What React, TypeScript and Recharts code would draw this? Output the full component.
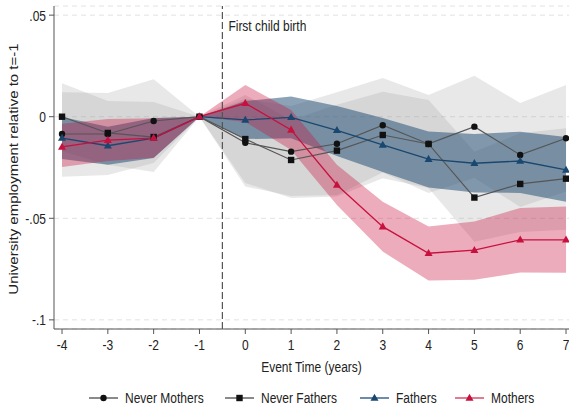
import { ComposedChart, Area, Line, XAxis, YAxis, CartesianGrid, ReferenceLine } from 'recharts';

const years = [-4, -3, -2, -1, 0, 1, 2, 3, 4, 5, 6, 7];
const yTicks = [-0.1, -0.05, 0, 0.05];

const neverMothers = [-0.0085, -0.0085, -0.0021, 0, -0.0128, -0.0172, -0.0133, -0.0042, -0.0134, -0.0049, -0.0188, -0.0106];
const neverMothersLo = [-0.0296, -0.0287, -0.0228, 0, -0.0344, -0.039, -0.0385, -0.0275, -0.0375, -0.03, -0.0444, -0.0368];
const neverMothersHi = [0.0121, 0.0117, 0.0185, 0, 0.0088, 0.0053, 0.0121, 0.019, 0.0107, 0.0202, 0.0067, 0.0156];

const neverFathers = [0, -0.008, -0.01, 0, -0.011, -0.0213, -0.0167, -0.009, -0.0134, -0.0398, -0.0331, -0.0305];
const neverFathersLo = [-0.0169, -0.0237, -0.0272, 0, -0.0326, -0.04, -0.0393, -0.0303, -0.0351, -0.0615, -0.0567, -0.0557];
const neverFathersHi = [0.0165, 0.0077, 0.0072, 0, 0.0107, -0.0016, 0.0059, 0.0123, 0.0082, -0.0172, -0.0082, -0.0057];

const fathers = [-0.0105, -0.0143, -0.0105, 0, -0.0016, -0.0003, -0.0067, -0.0139, -0.0209, -0.0229, -0.0218, -0.0262];
const fathersLo = [-0.0208, -0.0236, -0.0203, 0, -0.011, -0.0106, -0.0193, -0.0272, -0.0348, -0.0373, -0.0375, -0.0419];
const fathersHi = [-0.0001, -0.0049, -0.0006, 0, 0.0077, 0.01, 0.0053, -0.0006, -0.0073, -0.0085, -0.0074, -0.01];

const mothers = [-0.0149, -0.0115, -0.0105, 0, 0.0066, -0.0065, -0.0336, -0.0541, -0.0672, -0.0657, -0.0606, -0.0606];
const mothersLo = [-0.0247, -0.0218, -0.0202, 0, -0.0026, -0.0164, -0.0434, -0.0664, -0.0806, -0.0803, -0.0767, -0.0768];
const mothersHi = [-0.0035, -0.0011, -0.0008, 0, 0.0156, 0.0033, -0.0237, -0.0418, -0.0541, -0.0516, -0.0449, -0.0442];

const data = years.map((t, i) => ({
  t,
  nm: neverMothers[i],
  nmBand: [neverMothersLo[i], neverMothersHi[i]],
  nf: neverFathers[i],
  nfBand: [neverFathersLo[i], neverFathersHi[i]],
  f: fathers[i],
  fBand: [fathersLo[i], fathersHi[i]],
  m: mothers[i],
  mBand: [mothersLo[i], mothersHi[i]],
}));

const FONT = '"Liberation Sans", Arial, sans-serif';
const NAVY = '#1a476f';
const CRIMSON = '#c8103e';
const INK = '#111';
const STRETCH = 1.25; // glyphs in the reference are drawn tall and narrow

function fmtY(v: number) {
  if (v === 0) return '0';
  return String(v).replace('0.', '.');
}

const circleDot = (color: string) => (p: any) =>
  <circle key={`c${p.index}`} cx={p.cx} cy={p.cy} r={3.2} fill={color} />;

const squareDot = (color: string) => (p: any) =>
  <rect key={`s${p.index}`} x={p.cx - 3.2} y={p.cy - 3.2} width={6.4} height={6.4} fill={color} />;

const triangleDot = (color: string) => (p: any) =>
  <polygon
    key={`t${p.index}`}
    points={`${p.cx},${p.cy - 4.3} ${p.cx - 4},${p.cy + 2.8} ${p.cx + 4},${p.cy + 2.8}`}
    fill={color}
  />;

function XTick(p: any) {
  return (
    <g transform={`translate(${p.x},${p.y})`}>
      <text transform={`scale(1,${STRETCH})`} textAnchor="middle" dy={11} fontSize={12} fill="#222" fontFamily={FONT}>
        {p.payload.value}
      </text>
    </g>
  );
}

function YTick(p: any) {
  return (
    <g transform={`translate(${p.x},${p.y})`}>
      <text transform={`scale(1,${STRETCH})`} textAnchor="end" dy={4.3} fontSize={12} fill="#222" fontFamily={FONT}>
        {fmtY(p.payload.value)}
      </text>
    </g>
  );
}

function XTitle(p: any) {
  const vb = p.viewBox;
  return (
    <g transform={`translate(${vb.x + vb.width / 2},${vb.y + 43})`}>
      <text transform={`scale(1,${STRETCH})`} textAnchor="middle" fontSize={12} fill="#222" fontFamily={FONT}>
        Event Time (years)
      </text>
    </g>
  );
}

function YTitle() {
  return (
    <g transform="translate(18,169) rotate(-90)">
      <text transform={`scale(${STRETCH},1)`} textAnchor="middle" fontSize={12} fill="#222" fontFamily={FONT}>
        University employment relative to t=-1
      </text>
    </g>
  );
}

function BirthLabel(p: any) {
  const vb = p.viewBox;
  return (
    <g transform={`translate(${vb.x + 6},${vb.y + 24.5})`}>
      <text transform={`scale(1,${STRETCH})`} fontSize={12} fill="#222" fontFamily={FONT}>
        First child birth
      </text>
    </g>
  );
}

const legendItems = [
  { name: 'Never Mothers', line: '#8a8a8a', mark: 'circle', color: INK, x: 89 },
  { name: 'Never Fathers', line: '#8a8a8a', mark: 'square', color: INK, x: 225 },
  { name: 'Fathers', line: '#6d8cab', mark: 'triangle', color: NAVY, x: 360 },
  { name: 'Mothers', line: '#e27a94', mark: 'triangle', color: CRIMSON, x: 455 },
];

function LegendRow() {
  const cy = 398;
  return (
    <svg width={569} height={411} style={{ position: 'absolute', left: 0, top: 0, pointerEvents: 'none' }}>
      {legendItems.map((it) => {
        const mx = it.x + 14.5;
        return (
          <g key={it.name}>
            <line x1={it.x} x2={it.x + 29} y1={cy} y2={cy} stroke={it.line} strokeWidth={2} />
            {it.mark === 'circle' && <circle cx={mx} cy={cy} r={3.2} fill={it.color} />}
            {it.mark === 'square' && <rect x={mx - 3.2} y={cy - 3.2} width={6.4} height={6.4} fill={it.color} />}
            {it.mark === 'triangle' && (
              <polygon points={`${mx},${cy - 4.3} ${mx - 4},${cy + 2.8} ${mx + 4},${cy + 2.8}`} fill={it.color} />
            )}
            <g transform={`translate(${it.x + 36},${cy + 5.3})`}>
              <text transform={`scale(1,${STRETCH})`} fontSize={12} fill="#222" fontFamily={FONT}>
                {it.name}
              </text>
            </g>
          </g>
        );
      })}
    </svg>
  );
}

export default function App() {
  return (
    <div style={{ position: 'absolute', left: 0, top: 0, width: 569, height: 411, background: '#fff', fontFamily: FONT }}>
      <ComposedChart width={569} height={411} data={data} margin={{ top: 6, right: 0, bottom: 0, left: 0 }}>
        <CartesianGrid horizontal vertical={false} stroke="#e2e2e2" strokeDasharray="5 4" />
        <XAxis
          type="number"
          dataKey="t"
          domain={[-4.175, 7.065]}
          ticks={years}
          interval={0}
          allowDataOverflow
          height={82}
          stroke="#555"
          tickSize={5}
          tickMargin={2}
          tick={<XTick />}
          label={<XTitle />}
        />
        <YAxis
          type="number"
          domain={[-0.1045, 0.0545]}
          ticks={yTicks}
          interval={0}
          allowDataOverflow
          width={54}
          stroke="#555"
          tickSize={5}
          tickMargin={3}
          tick={<YTick />}
          label={<YTitle />}
        />

        <Area type="linear" dataKey="nmBand" stroke="none" fill="#969696" fillOpacity={0.22} isAnimationActive={false} activeDot={false} />
        <Line type="linear" dataKey="nm" stroke="#555" strokeWidth={1.2} dot={circleDot(INK)} activeDot={false} isAnimationActive={false} />

        <Area type="linear" dataKey="nfBand" stroke="none" fill="#969696" fillOpacity={0.22} isAnimationActive={false} activeDot={false} />
        <Line type="linear" dataKey="nf" stroke="#555" strokeWidth={1.2} dot={squareDot(INK)} activeDot={false} isAnimationActive={false} />

        <Area type="linear" dataKey="fBand" stroke="none" fill={NAVY} fillOpacity={0.5} isAnimationActive={false} activeDot={false} />
        <Line type="linear" dataKey="f" stroke={NAVY} strokeWidth={1.3} dot={triangleDot(NAVY)} activeDot={false} isAnimationActive={false} />

        <Area type="linear" dataKey="mBand" stroke="none" fill={CRIMSON} fillOpacity={0.35} isAnimationActive={false} activeDot={false} />
        <Line type="linear" dataKey="m" stroke={CRIMSON} strokeWidth={1.3} dot={triangleDot(CRIMSON)} activeDot={false} isAnimationActive={false} />

        <ReferenceLine x={-0.5} stroke="#555" strokeWidth={1.2} strokeDasharray="7 3" label={<BirthLabel />} />
      </ComposedChart>
      <LegendRow />
    </div>
  );
}
